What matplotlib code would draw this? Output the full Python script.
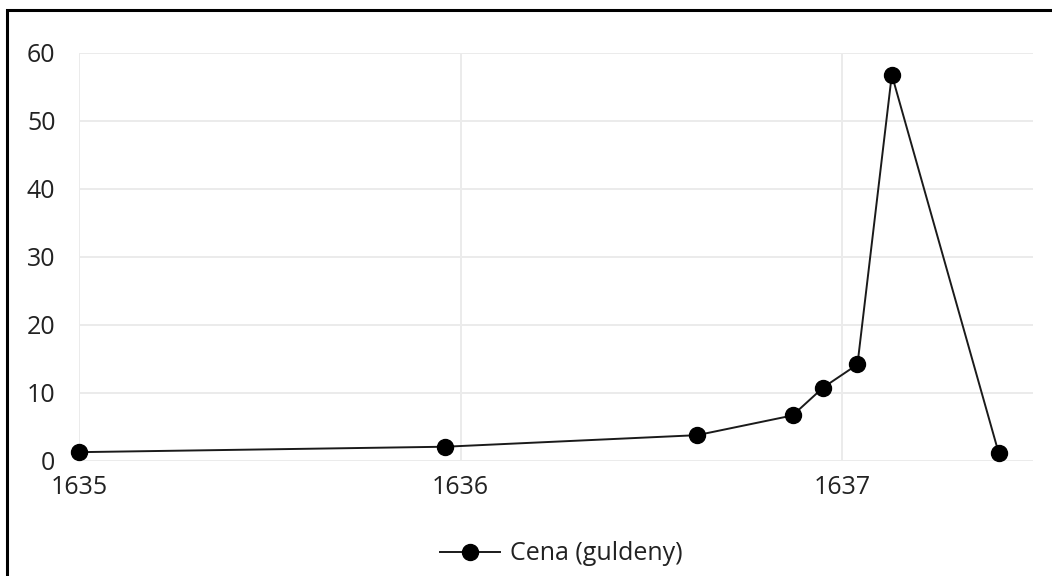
import matplotlib
matplotlib.use("Agg")
from matplotlib import pyplot as plt
from matplotlib.patches import Rectangle

# cena cebulek tulipanow (guldeny), czas w latach dziesietnych
lata = [1635.0, 1635.96, 1636.62, 1636.87, 1636.95, 1637.04, 1637.13, 1637.41]
cena = [1.3, 2.1, 3.8, 6.7, 10.8, 14.2, 56.8, 1.2]
x_ticks = [1635, 1636, 1637]
y_ticks = [0, 10, 20, 30, 40, 50, 60]

plt.rcParams['font.family'] = ['Open Sans', 'DejaVu Sans']

fig = plt.figure(figsize=(10.52, 5.76), dpi=100)
ax = fig.add_axes([79 / 1052, 1 - 461 / 576, (1033 - 79) / 1052, (461 - 53) / 576])

ax.plot(lata, cena, color='#1a1a1a', lw=1.4, marker='o', ms=11.5,
        markerfacecolor='black', markeredgecolor='black', label='Cena (guldeny)',
        clip_on=False, zorder=3)

ax.set_xlim(1635, 1637.5)
ax.set_ylim(0, 60)
ax.set_xticks(x_ticks)
ax.set_yticks(y_ticks)
ax.grid(True, color='#ebebeb', lw=1.4)
ax.set_axisbelow(True)
for s in ax.spines.values():
    s.set_visible(False)
ax.tick_params(length=0, labelsize=18, colors='#222222')
ax.tick_params(axis='y', pad=17)
ax.tick_params(axis='x', pad=10)

fig.legend(loc='center', bbox_to_anchor=(561 / 1052, 1 - 554 / 576), frameon=False,
           fontsize=18, handlelength=2.4, handletextpad=0.4, labelcolor='#222222')

# ramka obcieta z prawej i od dolu
fig.patches.append(Rectangle((6.5 / 1052, -0.1), 1.2, 1 - 9.5 / 576 + 0.1,
                             transform=fig.transFigure, fill=False,
                             edgecolor='black', lw=2.2))

plt.savefig('out.png', dpi=100)
